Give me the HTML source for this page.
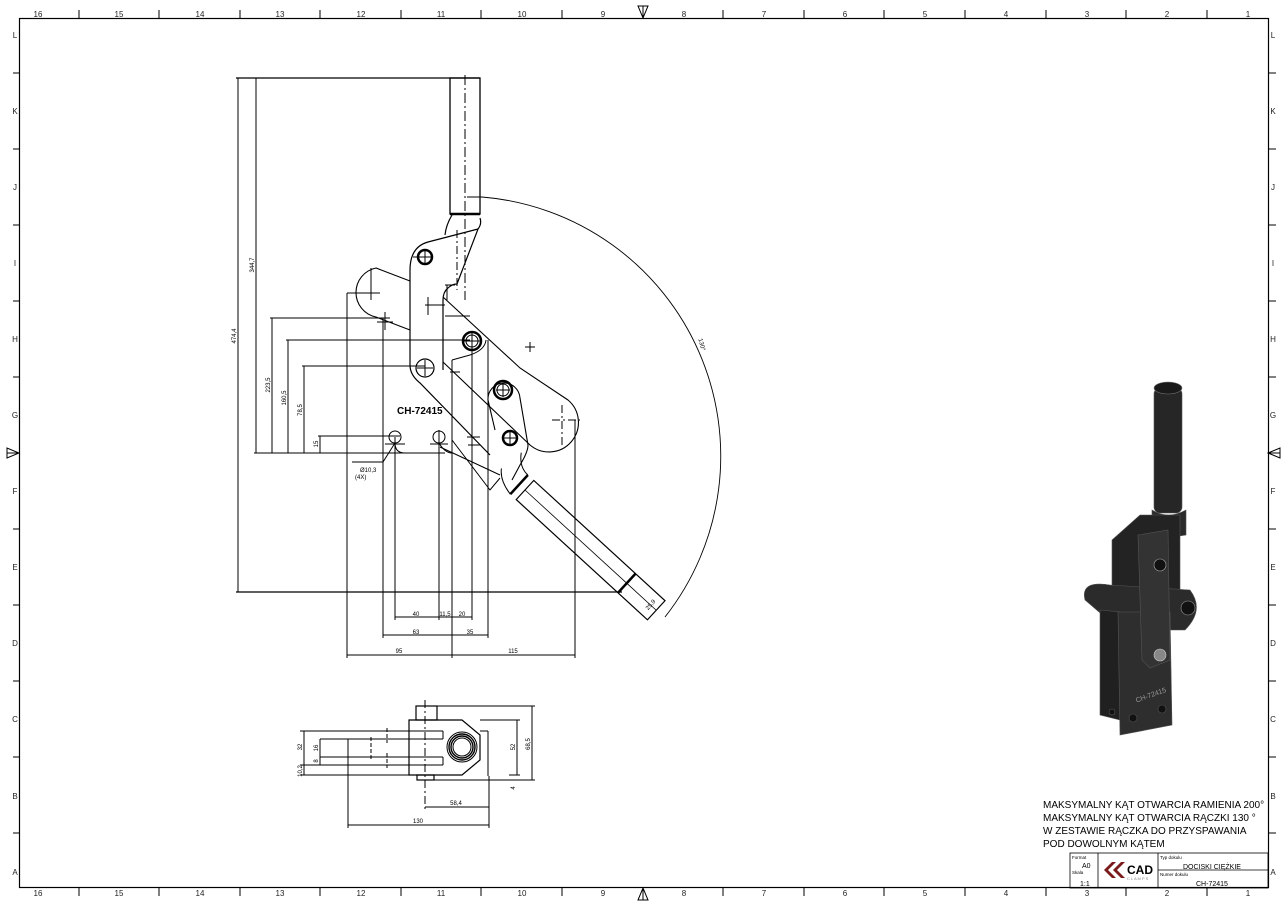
<!DOCTYPE html>
<html><head><meta charset="utf-8"><style>
html,body{margin:0;padding:0;background:#fff}
svg{display:block}
text{font-family:"Liberation Sans","DejaVu Sans",sans-serif}
</style></head><body>
<svg width="1287" height="907" viewBox="0 0 1287 907" xmlns="http://www.w3.org/2000/svg">
<rect width="1287" height="907" fill="#fff"/>
<rect x="19.5" y="18.5" width="1249" height="869" fill="none" stroke="#000" stroke-width="1.2"/>
<g stroke="#000" stroke-width="1">
<line x1="79" y1="10" x2="79" y2="18"/><line x1="159" y1="10" x2="159" y2="18"/><line x1="240" y1="10" x2="240" y2="18"/><line x1="320" y1="10" x2="320" y2="18"/><line x1="401" y1="10" x2="401" y2="18"/><line x1="481" y1="10" x2="481" y2="18"/><line x1="562" y1="10" x2="562" y2="18"/><line x1="723" y1="10" x2="723" y2="18"/><line x1="804" y1="10" x2="804" y2="18"/><line x1="884" y1="10" x2="884" y2="18"/><line x1="965" y1="10" x2="965" y2="18"/><line x1="1046" y1="10" x2="1046" y2="18"/><line x1="1126" y1="10" x2="1126" y2="18"/><line x1="1207" y1="10" x2="1207" y2="18"/>
<line x1="79" y1="888" x2="79" y2="896"/><line x1="159" y1="888" x2="159" y2="896"/><line x1="240" y1="888" x2="240" y2="896"/><line x1="320" y1="888" x2="320" y2="896"/><line x1="401" y1="888" x2="401" y2="896"/><line x1="481" y1="888" x2="481" y2="896"/><line x1="562" y1="888" x2="562" y2="896"/><line x1="723" y1="888" x2="723" y2="896"/><line x1="804" y1="888" x2="804" y2="896"/><line x1="884" y1="888" x2="884" y2="896"/><line x1="965" y1="888" x2="965" y2="896"/><line x1="1046" y1="888" x2="1046" y2="896"/><line x1="1126" y1="888" x2="1126" y2="896"/><line x1="1207" y1="888" x2="1207" y2="896"/>
<line x1="13" y1="73" x2="19" y2="73"/><line x1="13" y1="149" x2="19" y2="149"/><line x1="13" y1="225" x2="19" y2="225"/><line x1="13" y1="301" x2="19" y2="301"/><line x1="13" y1="377" x2="19" y2="377"/><line x1="13" y1="529" x2="19" y2="529"/><line x1="13" y1="605" x2="19" y2="605"/><line x1="13" y1="681" x2="19" y2="681"/><line x1="13" y1="757" x2="19" y2="757"/><line x1="13" y1="833" x2="19" y2="833"/>
<line x1="1268" y1="73" x2="1276" y2="73"/><line x1="1268" y1="149" x2="1276" y2="149"/><line x1="1268" y1="225" x2="1276" y2="225"/><line x1="1268" y1="301" x2="1276" y2="301"/><line x1="1268" y1="377" x2="1276" y2="377"/><line x1="1268" y1="529" x2="1276" y2="529"/><line x1="1268" y1="605" x2="1276" y2="605"/><line x1="1268" y1="681" x2="1276" y2="681"/><line x1="1268" y1="757" x2="1276" y2="757"/><line x1="1268" y1="833" x2="1276" y2="833"/>
</g>
<g fill="none" stroke="#000" stroke-width="1">
<path d="M638 6 L648 6 L643 18 Z M643 6 V18"/><path d="M638 900 L648 900 L643 888 Z M643 900 V888"/>
<path d="M7 448 L7 458 L19 453 Z M7 453 H19"/><path d="M1280 448 L1280 458 L1268 453 Z M1280 453 H1268"/>
</g>
<g font-size="8" fill="#222" text-anchor="middle">
<text x="38" y="17">16</text><text x="119" y="17">15</text><text x="200" y="17">14</text><text x="280" y="17">13</text><text x="361" y="17">12</text><text x="441" y="17">11</text><text x="522" y="17">10</text><text x="603" y="17">9</text><text x="684" y="17">8</text><text x="764" y="17">7</text><text x="845" y="17">6</text><text x="925" y="17">5</text><text x="1006" y="17">4</text><text x="1087" y="17">3</text><text x="1167" y="17">2</text><text x="1248" y="17">1</text>
<text x="38" y="896">16</text><text x="119" y="896">15</text><text x="200" y="896">14</text><text x="280" y="896">13</text><text x="361" y="896">12</text><text x="441" y="896">11</text><text x="522" y="896">10</text><text x="603" y="896">9</text><text x="684" y="896">8</text><text x="764" y="896">7</text><text x="845" y="896">6</text><text x="925" y="896">5</text><text x="1006" y="896">4</text><text x="1087" y="896">3</text><text x="1167" y="896">2</text><text x="1248" y="896">1</text>
<text x="15" y="38">L</text><text x="15" y="114">K</text><text x="15" y="190">J</text><text x="15" y="266">I</text><text x="15" y="342">H</text><text x="15" y="418">G</text><text x="15" y="494">F</text><text x="15" y="570">E</text><text x="15" y="646">D</text><text x="15" y="722">C</text><text x="15" y="799">B</text><text x="15" y="875">A</text>
<text x="1273" y="38">L</text><text x="1273" y="114">K</text><text x="1273" y="190">J</text><text x="1273" y="266">I</text><text x="1273" y="342">H</text><text x="1273" y="418">G</text><text x="1273" y="494">F</text><text x="1273" y="570">E</text><text x="1273" y="646">D</text><text x="1273" y="722">C</text><text x="1273" y="799">B</text><text x="1273" y="875">A</text>
</g>

<g fill="none" stroke="#000" stroke-width="1">
<line x1="236" y1="78" x2="480" y2="78" stroke-width="1.3"/>
<line x1="238" y1="78" x2="238" y2="592"/>
<line x1="256" y1="78" x2="256" y2="453"/>
<line x1="272" y1="318" x2="272" y2="453"/>
<line x1="288" y1="340" x2="288" y2="453"/>
<line x1="304" y1="366" x2="304" y2="453"/>
<line x1="320" y1="436" x2="320" y2="453"/>
<line x1="236" y1="592" x2="622" y2="592" stroke-width="1.2"/>
<line x1="254" y1="453" x2="445" y2="453"/>
<line x1="270" y1="318" x2="390" y2="318"/>
<line x1="286" y1="340" x2="470" y2="340"/>
<line x1="302" y1="366" x2="425" y2="366"/>
<line x1="318" y1="436" x2="400" y2="436"/>
<line x1="347" y1="293" x2="347" y2="658"/>
<line x1="383" y1="318" x2="383" y2="638"/>
<line x1="395" y1="437" x2="395" y2="620"/>
<line x1="439" y1="437" x2="439" y2="620"/>
<line x1="452" y1="360" x2="452" y2="658"/>
<line x1="472" y1="341" x2="472" y2="620"/>
<line x1="488" y1="340" x2="488" y2="638"/>
<line x1="575" y1="420" x2="575" y2="658"/>
<line x1="395" y1="617" x2="472" y2="617"/>
<line x1="383" y1="635" x2="488" y2="635"/>
<line x1="347" y1="655" x2="575" y2="655"/>
<path d="M467 197 L482 197 A260 260 0 0 1 665 617" stroke-width="0.9"/>
<rect x="450" y="78" width="30" height="136" stroke-width="1.3"/>
<line x1="465" y1="75" x2="465" y2="300" stroke-dasharray="10,3,2,3"/>
<line x1="450" y1="214" x2="480" y2="214" stroke-width="2.5"/>
<path d="M452 215 Q446 225 445 235 M480 218 Q482 224 478 229 L457 284 Q452 284 448 288 Q443 292 443 300 L443 370" stroke-width="1.2"/>
<path d="M410 270 Q410 247 428 242 L478 229" stroke-width="1.2"/>
<path d="M410 270 L410 365 Q410 375 420 383 L490 455" stroke-width="1.2"/>
<line x1="457" y1="230" x2="457" y2="290" stroke-dasharray="8,3,2,3"/>
<path d="M410 281 L376 268 A25 25 0 0 0 376 317 L410 330" stroke-width="1.1"/>
<path d="M371 268 V300 M347 293 H380 M385 312 V330 M377 322 H393"/>
<path d="M443 297 L520 368 L568 400 A24 24 0 0 1 530 445 L443 362" stroke-width="1.1"/>
<path d="M445 316 H470"/>
<path d="M562 405 V445 M552 420 H580" stroke-dasharray="8,3,2,3"/>
<path d="M488 400 A16 16 0 0 1 520 398 L528 445 Q528 452 520 465 L512 480 M488 400 L495 430" stroke-width="1.1"/>
<path d="M470 355 Q485 350 486 340 M452 360 L470 355"/>
<path d="M440 447 L500 475 M452 440 L490 490 L500 478"/>
<g transform="translate(525,490) rotate(42.5)">
<rect x="0" y="-13" width="178" height="26" stroke-width="1.2"/>
<line x1="0" y1="0" x2="178" y2="0" stroke-width="0.8"/>
<line x1="138" y1="-13" x2="138" y2="13" stroke-width="2.5"/>
<line x1="-8" y1="-13" x2="-8" y2="13" stroke-width="2.5"/>
<path d="M-8 -13 Q-20 -13 -28 -25 M-8 13 Q-25 10 -32 0"/>
</g>
<circle cx="425" cy="257" r="7" stroke-width="2.5"/>
<circle cx="425" cy="368" r="9" stroke-width="1.2"/>
<circle cx="472" cy="341" r="9" stroke-width="2.5"/><circle cx="472" cy="341" r="6"/>
<circle cx="503" cy="390" r="9" stroke-width="2.5"/><circle cx="503" cy="390" r="6"/>
<circle cx="510" cy="438" r="7" stroke-width="2.5"/>
<circle cx="395" cy="437" r="6"/><circle cx="439" cy="437" r="6"/>
<path d="M395 443 Q395 453 405 453 M439 443 Q445 453 452 453"/>
<path d="M413 257 H432 M425 250 V264 M417 368 H433 M425 360 V376 M464 341 H480 M472 333 V349 M496 390 H510 M503 383 V397 M503 438 H518 M510 431 V445 M385 444 H405 M439 430 V445 M430 444 H448 M467 437 H480 M468 445 H480 M472 430 V450 M428 297 V315 M425 305 H445 M445 285 H455 M447 285 V300 M525 347 H535 M530 342 V352 M450 372 H460"/>
<path d="M395 443 L383 462 L352 462"/>
</g>
<g font-family="Liberation Serif,serif" font-weight="bold" font-size="10" fill="#000"><text x="397" y="414">CH-72415</text></g>
<g font-size="6" fill="#000" text-anchor="middle">
<text x="416" y="616">40</text><text x="445" y="616">11,5</text><text x="462" y="616">20</text>
<text x="416" y="634">63</text><text x="470" y="634">35</text>
<text x="399" y="653">95</text><text x="513" y="653">115</text>
<text x="360" y="472" text-anchor="start">Ø10,3</text><text x="355" y="479" text-anchor="start">(4X)</text>
<text transform="translate(236,336) rotate(-90)">474,4</text>
<text transform="translate(254,265) rotate(-90)">344,7</text>
<text transform="translate(270,385) rotate(-90)">223,5</text>
<text transform="translate(286,398) rotate(-90)">160,5</text>
<text transform="translate(302,410) rotate(-90)">78,5</text>
<text transform="translate(318,444) rotate(-90)">15</text>
<text transform="translate(700,345) rotate(75)">130°</text>
<text transform="translate(652,606) rotate(-48)">25,9</text>
</g>

<g fill="none" stroke="#000" stroke-width="1">
<rect x="416" y="706" width="21" height="14" stroke-width="1.2"/>
<rect x="417" y="775" width="17" height="5" stroke-width="1.2"/>
<path d="M409 720 H462 L480 735 V760 L462 775 H409 Z" stroke-width="1.2"/>
<path d="M300 731 H443 M320 739 H443 M320 757 H443 M300 765 H443 M300 775 H409 M443 731 V739 M443 757 V765"/>
<path d="M488 731 V776 M480 731 H488"/>
<circle cx="462" cy="747" r="15"/><circle cx="462" cy="747" r="13" stroke-width="1.4"/><circle cx="462" cy="747" r="11" stroke-width="1.4"/><circle cx="462" cy="747" r="9"/>
<path d="M387 728 V743 M387 753 V768 M371 737 V760" stroke-dasharray="4,2"/>
<line x1="425" y1="700" x2="425" y2="810" stroke-dasharray="8,3,2,3"/>
<line x1="304" y1="731" x2="304" y2="775"/>
<line x1="320" y1="739" x2="320" y2="765"/>
<line x1="517" y1="720" x2="517" y2="775"/>
<line x1="532" y1="706" x2="532" y2="780"/>
<line x1="437" y1="706" x2="535" y2="706"/>
<line x1="480" y1="720" x2="520" y2="720"/>
<line x1="434" y1="780" x2="535" y2="780"/>
<line x1="509" y1="775" x2="520" y2="775"/>
<line x1="348" y1="739" x2="348" y2="828"/>
<line x1="489" y1="776" x2="489" y2="828"/>
<line x1="425" y1="807" x2="489" y2="807"/>
<line x1="348" y1="825" x2="489" y2="825"/>
</g>
<g font-size="6" fill="#000" text-anchor="middle">
<text x="456" y="805">58,4</text><text x="418" y="823">130</text>
<text transform="translate(302,747) rotate(-90)">32</text>
<text transform="translate(302,771) rotate(-90)">10,2</text>
<text transform="translate(318,748) rotate(-90)">16</text>
<text transform="translate(318,761) rotate(-90)">8</text>
<text transform="translate(515,747) rotate(-90)">52</text>
<text transform="translate(530,744) rotate(-90)">68,5</text>
<text transform="translate(515,788) rotate(-90)">4</text>
</g>

<g stroke="#555" stroke-width="0.6">
<rect x="1154" y="388" width="28" height="125" rx="6" fill="#262626"/>
<ellipse cx="1168" cy="388" rx="14" ry="6" fill="#1a1a1a" stroke="#777"/>
<path d="M1152 510 Q1168 520 1186 510 L1186 535 L1152 540 Z" fill="#2a2a2a"/>
<path d="M1112 540 L1140 515 L1180 515 L1180 590 L1150 640 L1112 620 Z" fill="#232323"/>
<path d="M1085 600 Q1080 580 1110 585 L1190 590 Q1205 610 1185 630 L1120 630 Z" fill="#2b2b2b"/>
<path d="M1100 610 L1120 612 L1120 720 L1100 715 Z" fill="#202020"/>
<path d="M1118 612 L1170 612 L1172 725 L1120 735 Z" fill="#2e2e2e"/>
<path d="M1138 535 L1168 530 L1170 660 L1150 668 L1142 660 Z" fill="#333"/>
<circle cx="1160" cy="565" r="6" fill="#111" stroke="#aaa"/>
<circle cx="1160" cy="655" r="6" fill="#888" stroke="#ccc"/>
<circle cx="1188" cy="608" r="7" fill="#111" stroke="#999"/>
<circle cx="1133" cy="718" r="4" fill="#111"/><circle cx="1162" cy="709" r="4" fill="#111"/><circle cx="1112" cy="712" r="3" fill="#111"/>
</g>
<text x="1133" y="698" font-family="Liberation Serif,serif" font-size="7" fill="#999" transform="rotate(-20 1148 690)">CH-72415</text>

<g font-size="10" fill="#000">
<text x="1043" y="808">MAKSYMALNY KĄT OTWARCIA RAMIENIA 200°</text>
<text x="1043" y="821">MAKSYMALNY KĄT OTWARCIA RĄCZKI 130 °</text>
<text x="1043" y="834">W ZESTAWIE RĄCZKA DO PRZYSPAWANIA</text>
<text x="1043" y="847">POD DOWOLNYM KĄTEM</text>
</g>
<g fill="none" stroke="#000" stroke-width="0.8">
<rect x="1070" y="853" width="198" height="35"/>
<line x1="1098" y1="853" x2="1098" y2="888"/>
<line x1="1158" y1="853" x2="1158" y2="888"/>
<line x1="1158" y1="870" x2="1268" y2="870"/>
</g>
<g fill="#000">
<text x="1072" y="859" font-size="4.5">Format</text><text x="1082" y="868" font-size="7">A0</text>
<text x="1072" y="874" font-size="4.5">Skala</text><text x="1080" y="886" font-size="7">1:1</text>
<text x="1160" y="859" font-size="4.5">Typ dokulu</text><text x="1183" y="869" font-size="7">DOCISKI CIĘŻKIE</text>
<text x="1160" y="876" font-size="4.5">Numer dokulu</text><text x="1196" y="886" font-size="7">CH-72415</text>
<text x="1127" y="874" font-size="12" font-weight="bold">CAD</text>
<text x="1127" y="880" font-size="4" fill="#888">C L A M P S</text>
</g>
<path d="M1112 862 L1104 870 L1112 878 L1116 878 L1108 870 L1116 862 Z M1121 862 L1113 870 L1121 878 L1125 878 L1117 870 L1125 862 Z" fill="#7a1a1a"/>
</svg>
</body></html>
